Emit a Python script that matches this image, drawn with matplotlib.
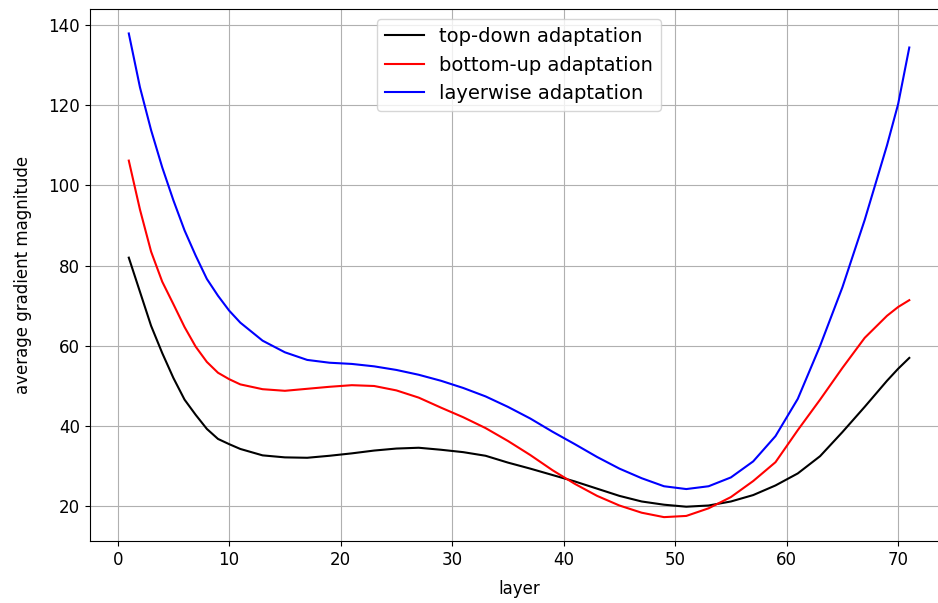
import matplotlib
matplotlib.use("Agg")
import matplotlib.pyplot as plt

# layers (denser where the curves bend hard)
layers = [1, 2, 3, 4, 5, 6, 7, 8, 9, 10, 11, 13, 15, 17, 19, 21, 23, 25, 27, 29,
          31, 33, 35, 37, 39, 41, 43, 45, 47, 49, 51, 53, 55, 57, 59, 61, 63, 65,
          67, 69, 70, 71]

top_down = [82.0, 73.5, 65.0, 58.2, 52.0, 46.6, 42.8, 39.3, 36.8, 35.5, 34.3, 32.7,
            32.2, 32.1, 32.6, 33.2, 33.9, 34.4, 34.6, 34.1, 33.5, 32.6, 30.9, 29.4,
            27.8, 26.2, 24.4, 22.6, 21.2, 20.4, 19.9, 20.2, 21.2, 22.8, 25.2, 28.2,
            32.5, 38.5, 44.8, 51.3, 54.3, 57.0]

bottom_up = [106.2, 94.0, 83.5, 76.0, 70.4, 64.7, 59.8, 56.0, 53.3, 51.7, 50.4, 49.2,
             48.8, 49.3, 49.8, 50.2, 50.0, 48.9, 47.1, 44.6, 42.2, 39.5, 36.3, 32.8,
             29.0, 25.6, 22.6, 20.2, 18.4, 17.3, 17.6, 19.5, 22.3, 26.3, 31.0, 39.0,
             46.6, 54.5, 62.0, 67.5, 69.7, 71.4]

layerwise = [137.9, 124.5, 113.8, 104.5, 96.3, 88.8, 82.5, 76.7, 72.5, 68.8, 65.8,
             61.3, 58.4, 56.5, 55.8, 55.5, 54.9, 54.0, 52.8, 51.3, 49.5, 47.4, 44.8,
             41.9, 38.6, 35.5, 32.3, 29.4, 27.0, 25.0, 24.3, 25.0, 27.2, 31.2, 37.5,
             46.8, 60.0, 74.6, 91.4, 110.0, 120.3, 134.4]

plt.rcParams['font.size'] = 12

fig, ax = plt.subplots(figsize=(9.38, 6.03), dpi=100)
# right spine falls just outside the picture in the reference
fig.subplots_adjust(left=0.0957, right=1.011, bottom=0.1023, top=0.9846)

ax.plot(layers, top_down, color='k', label='top-down adaptation')
ax.plot(layers, bottom_up, color='r', label='bottom-up adaptation')
ax.plot(layers, layerwise, color='b', label='layerwise adaptation')

ax.set_xlabel('layer', labelpad=8)
ax.set_ylabel('average gradient magnitude', labelpad=12)
ax.grid(True)
ax.legend(loc='upper center', fontsize=14)

fig.savefig('out.png', dpi=100)
